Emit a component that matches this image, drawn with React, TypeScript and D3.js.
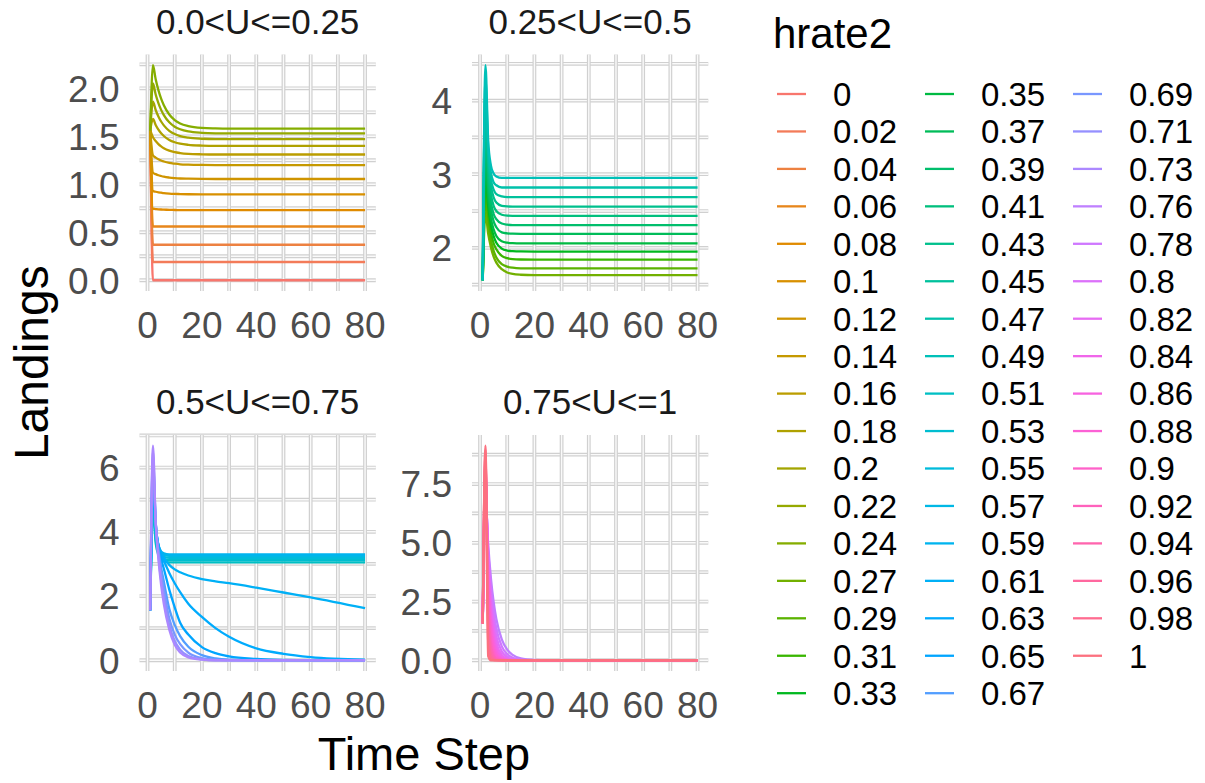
import React from "react";
import * as d3 from "d3";

// ---------------- DATA ----------------
const TIMES = [1, 2, 3, 4, 5, 6, 8, 10, 12, 15, 20, 25, 30, 40, 50, 60, 80];

const PANEL_TITLES = ["0.0<U<=0.25", "0.25<U<=0.5", "0.5<U<=0.75", "0.75<U<=1"];

const HRATE_P1 = ["0", "0.02", "0.04", "0.06", "0.08", "0.1", "0.12", "0.14", "0.16", "0.18", "0.2", "0.22", "0.24"];
const VALUES_P1 = [
  [1.56, 0, 0, 0, 0, 0, 0, 0, 0, 0, 0, 0, 0, 0, 0, 0, 0],
  [1.56, 0.19, 0.19, 0.19, 0.19, 0.19, 0.19, 0.19, 0.19, 0.19, 0.19, 0.19, 0.19, 0.19, 0.19, 0.19, 0.19],
  [1.56, 0.37, 0.37, 0.37, 0.37, 0.37, 0.37, 0.37, 0.37, 0.37, 0.37, 0.37, 0.37, 0.37, 0.37, 0.37, 0.37],
  [1.56, 0.56, 0.56, 0.56, 0.56, 0.56, 0.56, 0.56, 0.56, 0.56, 0.56, 0.56, 0.56, 0.56, 0.56, 0.56, 0.56],
  [1.56, 0.745, 0.742, 0.739, 0.737, 0.736, 0.733, 0.732, 0.731, 0.73, 0.73, 0.73, 0.73, 0.73, 0.73, 0.73, 0.73],
  [1.56, 0.93, 0.922, 0.916, 0.912, 0.908, 0.903, 0.9, 0.898, 0.896, 0.895, 0.895, 0.895, 0.895, 0.895, 0.895, 0.895],
  [1.56, 1.12, 1.106, 1.094, 1.086, 1.079, 1.07, 1.064, 1.06, 1.058, 1.056, 1.055, 1.055, 1.055, 1.055, 1.055, 1.055],
  [1.56, 1.3, 1.278, 1.261, 1.247, 1.237, 1.222, 1.214, 1.208, 1.204, 1.201, 1.2, 1.2, 1.2, 1.2, 1.2, 1.2],
  [1.56, 1.49, 1.45, 1.419, 1.395, 1.376, 1.35, 1.334, 1.325, 1.317, 1.312, 1.31, 1.31, 1.31, 1.31, 1.31, 1.31],
  [1.56, 1.68, 1.618, 1.57, 1.532, 1.503, 1.462, 1.438, 1.423, 1.411, 1.403, 1.4, 1.4, 1.4, 1.4, 1.4, 1.4],
  [1.56, 1.86, 1.774, 1.707, 1.654, 1.614, 1.557, 1.523, 1.502, 1.485, 1.474, 1.47, 1.47, 1.47, 1.47, 1.47, 1.47],
  [1.56, 2.05, 1.935, 1.846, 1.775, 1.721, 1.646, 1.6, 1.573, 1.55, 1.536, 1.531, 1.53, 1.53, 1.53, 1.53, 1.53],
  [1.56, 2.24, 2.094, 1.981, 1.892, 1.823, 1.727, 1.669, 1.634, 1.606, 1.587, 1.582, 1.58, 1.58, 1.58, 1.58, 1.58],
];

const HRATE_P2 = ["0.27", "0.29", "0.31", "0.33", "0.35", "0.37", "0.39", "0.41", "0.43", "0.45", "0.47", "0.49"];
const VALUES_P2 = [
  [1.56, 2.47, 2.19, 2.01, 1.88, 1.8, 1.71, 1.665, 1.645, 1.635, 1.63, 1.63, 1.63, 1.63, 1.63, 1.63, 1.63],
  [1.56, 2.65, 2.31, 2.1, 1.96, 1.87, 1.78, 1.745, 1.73, 1.722, 1.72, 1.72, 1.72, 1.72, 1.72, 1.72, 1.72],
  [1.56, 2.84, 2.45, 2.21, 2.06, 1.98, 1.89, 1.86, 1.847, 1.842, 1.84, 1.84, 1.84, 1.84, 1.84, 1.84, 1.84],
  [1.56, 3.02, 2.57, 2.31, 2.16, 2.07, 1.99, 1.963, 1.955, 1.951, 1.95, 1.95, 1.95, 1.95, 1.95, 1.95, 1.95],
  [1.56, 3.2, 2.69, 2.4, 2.25, 2.16, 2.09, 2.07, 2.063, 2.06, 2.06, 2.06, 2.06, 2.06, 2.06, 2.06, 2.06],
  [1.56, 3.39, 2.82, 2.52, 2.36, 2.28, 2.21, 2.197, 2.192, 2.19, 2.19, 2.19, 2.19, 2.19, 2.19, 2.19, 2.19],
  [1.56, 3.57, 2.94, 2.62, 2.46, 2.39, 2.33, 2.315, 2.31, 2.31, 2.31, 2.31, 2.31, 2.31, 2.31, 2.31, 2.31],
  [1.56, 3.75, 3.06, 2.73, 2.57, 2.5, 2.45, 2.438, 2.435, 2.435, 2.435, 2.435, 2.435, 2.435, 2.435, 2.435, 2.435],
  [1.56, 3.93, 3.175, 2.84, 2.685, 2.615, 2.57, 2.562, 2.56, 2.56, 2.56, 2.56, 2.56, 2.56, 2.56, 2.56, 2.56],
  [1.56, 4.12, 3.27, 2.93, 2.79, 2.73, 2.7, 2.69, 2.69, 2.69, 2.69, 2.69, 2.69, 2.69, 2.69, 2.69, 2.69],
  [1.56, 4.3, 3.36, 3.02, 2.89, 2.85, 2.82, 2.82, 2.82, 2.82, 2.82, 2.82, 2.82, 2.82, 2.82, 2.82, 2.82],
  [1.56, 4.48, 3.46, 3.12, 3.01, 2.97, 2.95, 2.95, 2.95, 2.95, 2.95, 2.95, 2.95, 2.95, 2.95, 2.95, 2.95],
];

const HRATE_P3 = ["0.51", "0.53", "0.55", "0.57", "0.59", "0.61", "0.63", "0.65", "0.67", "0.69", "0.71", "0.73"];
const VALUES_P3 = [
  [1.56, 4.67, 3.65, 3.27, 3.13, 3.08, 3.05, 3.05, 3.05, 3.05, 3.05, 3.05, 3.05, 3.05, 3.05, 3.05, 3.05],
  [1.56, 4.85, 3.76, 3.35, 3.2, 3.15, 3.12, 3.12, 3.12, 3.12, 3.12, 3.12, 3.12, 3.12, 3.12, 3.12, 3.12],
  [1.56, 5.03, 3.87, 3.43, 3.27, 3.22, 3.19, 3.19, 3.19, 3.19, 3.19, 3.19, 3.19, 3.19, 3.19, 3.19, 3.19],
  [1.56, 5.22, 3.98, 3.5, 3.33, 3.28, 3.25, 3.25, 3.25, 3.25, 3.25, 3.25, 3.25, 3.25, 3.25, 3.25, 3.25],
  [1.56, 5.4, 4.08, 3.58, 3.39, 3.33, 3.3, 3.3, 3.3, 3.3, 3.3, 3.3, 3.3, 3.3, 3.3, 3.3, 3.3],
  [1.56, 5.58, 4.15, 3.6, 3.35, 3.2, 2.97, 2.83, 2.74, 2.64, 2.53, 2.46, 2.4, 2.26, 2.11, 1.96, 1.62],
  [1.56, 5.76, 4.2, 3.6, 3.3, 3.1, 2.72, 2.4, 2.12, 1.76, 1.35, 1.0, 0.73, 0.37, 0.2, 0.1, 0.02],
  [1.56, 5.95, 4.25, 3.55, 3.15, 2.85, 2.2, 1.65, 1.17, 0.8, 0.41, 0.22, 0.12, 0.04, 0.01, 0, 0],
  [1.56, 6.13, 4.3, 3.45, 2.9, 2.45, 1.6, 1.1, 0.75, 0.42, 0.16, 0.06, 0.02, 0, 0, 0, 0],
  [1.56, 6.31, 4.3, 3.35, 2.7, 2.2, 1.3, 0.8, 0.5, 0.24, 0.07, 0.02, 0, 0, 0, 0, 0],
  [1.56, 6.5, 4.3, 3.25, 2.5, 1.95, 1.1, 0.6, 0.33, 0.13, 0.03, 0, 0, 0, 0, 0, 0],
  [1.56, 6.68, 4.3, 3.15, 2.35, 1.75, 0.95, 0.48, 0.24, 0.09, 0.02, 0, 0, 0, 0, 0, 0],
];

const HRATE_P4 = ["0.76", "0.78", "0.8", "0.82", "0.84", "0.86", "0.88", "0.9", "0.92", "0.94", "0.96", "0.98", "1"];
const VALUES_P4 = [
  [1.56, 6.94, 4.93, 3.5, 2.48, 1.76, 0.89, 0.45, 0.23, 0.08, 0.015, 0, 0, 0, 0, 0, 0],
  [1.56, 7.12, 4.7, 3.1, 2.05, 1.35, 0.59, 0.26, 0.11, 0.03, 0, 0, 0, 0, 0, 0, 0],
  [1.56, 7.3, 4.45, 2.72, 1.66, 1.01, 0.38, 0.14, 0.05, 0.01, 0, 0, 0, 0, 0, 0, 0],
  [1.56, 7.49, 4.19, 2.35, 1.32, 0.74, 0.23, 0.07, 0.02, 0, 0, 0, 0, 0, 0, 0, 0],
  [1.56, 7.67, 3.91, 1.99, 1.02, 0.52, 0.14, 0.03, 0.01, 0, 0, 0, 0, 0, 0, 0, 0],
  [1.56, 7.85, 3.61, 1.66, 0.76, 0.35, 0.07, 0.02, 0, 0, 0, 0, 0, 0, 0, 0, 0],
  [1.56, 8.03, 3.29, 1.35, 0.55, 0.23, 0.04, 0.01, 0, 0, 0, 0, 0, 0, 0, 0, 0],
  [1.56, 8.22, 2.88, 1.01, 0.35, 0.12, 0.02, 0, 0, 0, 0, 0, 0, 0, 0, 0, 0],
  [1.56, 8.4, 2.44, 0.71, 0.21, 0.06, 0.01, 0, 0, 0, 0, 0, 0, 0, 0, 0, 0],
  [1.56, 8.58, 1.97, 0.45, 0.1, 0.02, 0, 0, 0, 0, 0, 0, 0, 0, 0, 0, 0],
  [1.56, 8.77, 1.4, 0.22, 0.04, 0.01, 0, 0, 0, 0, 0, 0, 0, 0, 0, 0, 0],
  [1.56, 8.95, 0.81, 0.07, 0.01, 0, 0, 0, 0, 0, 0, 0, 0, 0, 0, 0, 0],
  [1.56, 9.13, 0.18, 0, 0, 0, 0, 0, 0, 0, 0, 0, 0, 0, 0, 0, 0],
];

const X_MAJOR = [0, 20, 40, 60, 80];
const X_MINOR = [10, 30, 50, 70];
const Y_MAJOR = [
  [0, 0.5, 1, 1.5, 2],
  [2, 3, 4],
  [0, 2, 4, 6],
  [0, 2.5, 5, 7.5],
];
const Y_MINOR = [
  [0.25, 0.75, 1.25, 1.75, 2.25],
  [1.5, 2.5, 3.5, 4.5],
  [1, 3, 5, 7],
  [1.25, 3.75, 6.25, 8.75],
];
const Y_LABELS = [
  ["0.0", "0.5", "1.0", "1.5", "2.0"],
  ["2", "3", "4"],
  ["0", "2", "4", "6"],
  ["0.0", "2.5", "5.0", "7.5"],
];

// ---------------- COLORS (ggplot2 hue scale, R's hcl) ----------------
function hclR(h: number, c: number, l: number): string {
  const WHITE_Y = 100.0;
  const WHITE_u = 0.1978398;
  const WHITE_v = 0.4683363;
  const hr = (h * Math.PI) / 180;
  const U = c * Math.cos(hr);
  const V = c * Math.sin(hr);
  const Y = WHITE_Y * (l > 7.999592 ? Math.pow((l + 16) / 116, 3) : l / 903.3);
  const u = U / (13 * l) + WHITE_u;
  const v = V / (13 * l) + WHITE_v;
  const X = (9.0 * Y * u) / (4 * v);
  const Z = -X / 3 - 5 * Y + (3 * Y) / v;
  const g = (x: number) => (x > 0.00304 ? 1.055 * Math.pow(x, 1 / 2.4) - 0.055 : 12.92 * x);
  const cl = (x: number) => Math.round(255 * Math.max(0, Math.min(1, x)));
  const r = g((3.240479 * X - 1.53715 * Y - 0.498535 * Z) / WHITE_Y);
  const gg = g((-0.969256 * X + 1.875992 * Y + 0.041556 * Z) / WHITE_Y);
  const b = g((0.055648 * X - 0.204043 * Y + 1.057311 * Z) / WHITE_Y);
  return `rgb(${cl(r)},${cl(gg)},${cl(b)})`;
}

const ALL_HRATES = [...HRATE_P1, ...HRATE_P2, ...HRATE_P3, ...HRATE_P4];
const N = ALL_HRATES.length;
const COLORS = ALL_HRATES.map((_, i) => hclR(15 + (i * 360) / N, 100, 65));
const colorOf = (h: string) => COLORS[ALL_HRATES.indexOf(h)];

// ---------------- LAYOUT ----------------
const FONT = "'Liberation Sans', Arial, Helvetica, sans-serif";
const PANELS = [
  { x0: 139.5, x1: 375.8, y0: 54.5, y1: 291, hr: HRATE_P1, vals: VALUES_P1 },
  { x0: 472, x1: 708.3, y0: 54.5, y1: 291, hr: HRATE_P2, vals: VALUES_P2 },
  { x0: 139.5, x1: 375.8, y0: 435, y1: 671, hr: HRATE_P3, vals: VALUES_P3 },
  { x0: 472, x1: 708.3, y0: 435, y1: 671, hr: HRATE_P4, vals: VALUES_P4 },
];

function expand(lo: number, hi: number): [number, number] {
  const d = (hi - lo) * 0.05;
  return [lo - d, hi + d];
}

function GridLine(props: { x1: number; y1: number; x2: number; y2: number }) {
  return (
    <g>
      <line {...props} stroke="#d0d0d0" strokeWidth={3.8} />
      <line {...props} stroke="#fafafa" strokeWidth={1.4} />
    </g>
  );
}

function Panel({ idx }: { idx: number }) {
  const p = PANELS[idx];
  const x = d3.scaleLinear().domain(expand(d3.min(TIMES)!, d3.max(TIMES)!)).range([p.x0, p.x1]);
  const flat = p.vals.flat();
  const y = d3.scaleLinear().domain(expand(d3.min(flat)!, d3.max(flat)!)).range([p.y1, p.y0]);
  const line = d3
    .line<number>()
    .x((_, i) => x(TIMES[i]))
    .y((d) => y(d))
    .curve(d3.curveMonotoneX);
  const xs = [...X_MINOR, ...X_MAJOR];
  const ys = [...Y_MINOR[idx], ...Y_MAJOR[idx]];
  return (
    <g>
      {ys.map((v, i) => (
        <GridLine key={"h" + i} x1={p.x0} x2={p.x1} y1={y(v)} y2={y(v)} />
      ))}
      {xs.map((v, i) => (
        <GridLine key={"v" + i} x1={x(v)} x2={x(v)} y1={p.y0} y2={p.y1} />
      ))}
      {p.vals.map((vals, i) => (
        <path key={i} d={line(vals)!} fill="none" stroke={colorOf(p.hr[i])} strokeWidth={2.3} />
      ))}
      {Y_MAJOR[idx].map((v, i) => (
        <text
          key={"yl" + i}
          x={p.x0 - 20}
          y={y(v)}
          dy="0.36em"
          textAnchor="end"
          fontSize={37}
          fill="#4d4d4d"
          fontFamily={FONT}
        >
          {Y_LABELS[idx][i]}
        </text>
      ))}
      {X_MAJOR.map((v, i) => (
        <text
          key={"xl" + i}
          x={x(v)}
          y={p.y1 + 47}
          textAnchor="middle"
          fontSize={37}
          fill="#4d4d4d"
          fontFamily={FONT}
        >
          {v}
        </text>
      ))}
      <text
        x={(p.x0 + p.x1) / 2}
        y={p.y0 - 21}
        textAnchor="middle"
        fontSize={35}
        fill="#1a1a1a"
        fontFamily={FONT}
      >
        {PANEL_TITLES[idx]}
      </text>
    </g>
  );
}

function Legend() {
  const rowsPerCol = 17;
  return (
    <g fontFamily={FONT}>
      <text x={773} y={48} fontSize={42} fill="#000">
        hrate2
      </text>
      {ALL_HRATES.map((h, i) => {
        const col = Math.floor(i / rowsPerCol);
        const row = i % rowsPerCol;
        const x0 = 777 + col * 148;
        const yc = 94 + row * 37.45;
        return (
          <g key={h}>
            <line x1={x0} x2={x0 + 29} y1={yc} y2={yc} stroke={COLORS[i]} strokeWidth={2.3} />
            <text x={x0 + 56} y={yc} dy="0.36em" fontSize={33} fill="#000">
              {h}
            </text>
          </g>
        );
      })}
    </g>
  );
}

export default function App() {
  return (
    <svg
      width={1205}
      height={783}
      style={{ position: "absolute", left: 0, top: 0, background: "#fff" }}
    >
      <rect width={1205} height={783} fill="#fff" />
      {[0, 1, 2, 3].map((i) => (
        <Panel key={i} idx={i} />
      ))}
      <text x={423.9} y={770} textAnchor="middle" fontSize={47} fill="#000" fontFamily={FONT}>
        Time Step
      </text>
      <text
        transform={`translate(48,362.7) rotate(-90)`}
        textAnchor="middle"
        fontSize={48}
        fill="#000"
        fontFamily={FONT}
      >
        Landings
      </text>
      <Legend />
    </svg>
  );
}
